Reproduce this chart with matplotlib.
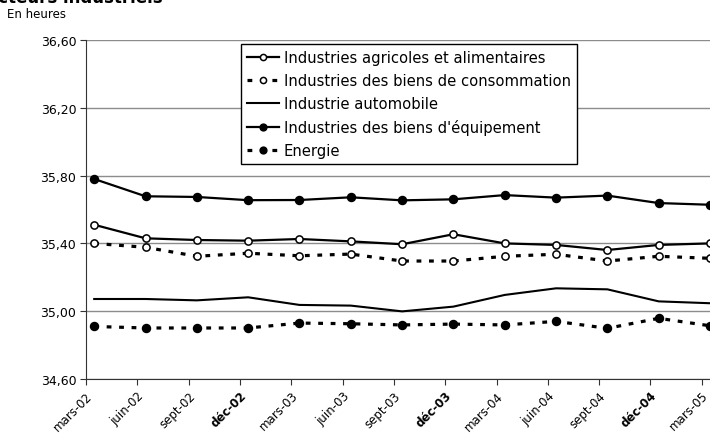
import matplotlib
matplotlib.use("Agg")
import matplotlib.pyplot as plt

plt.rcParams['font.family'] = ['DejaVu Sans']

labels = ['mars-02', 'juin-02', 'sept-02', 'déc-02', 'mars-03', 'juin-03', 'sept-03',
          'déc-03', 'mars-04', 'juin-04', 'sept-04', 'déc-04', 'mars-05']

agri = [35.51, 35.43, 35.42, 35.416, 35.426, 35.412, 35.395,
        35.454, 35.40, 35.391, 35.361, 35.391, 35.40]
conso = [35.40, 35.377, 35.324, 35.342, 35.327, 35.337, 35.296,
         35.296, 35.324, 35.336, 35.296, 35.324, 35.312]
auto = [35.072, 35.072, 35.064, 35.082, 35.037, 35.033, 34.999,
        35.027, 35.096, 35.135, 35.129, 35.058, 35.047]
equip = [35.78, 35.678, 35.674, 35.655, 35.656, 35.672, 35.654,
         35.66, 35.685, 35.67, 35.682, 35.638, 35.628]
energie = [34.91, 34.901, 34.901, 34.901, 34.93, 34.926, 34.919,
           34.924, 34.919, 34.94, 34.899, 34.958, 34.914]

yticks = [34.60, 35.00, 35.40, 35.80, 36.20, 36.60]

fig = plt.figure(figsize=(7.10, 4.35), dpi=100)
ax = fig.add_axes([86/710, 1 - 380/435, 1 - 86/710, (380 - 41)/435])

ticks = list(range(len(labels)))
xs = [t + 0.16 for t in ticks]
dash = (0, (1.5, 2.4))

ax.plot(xs, agri, color='black', lw=1.6, marker='o', ms=5.2,
        mfc='white', mec='black', mew=1.1, label='Industries agricoles et alimentaires')
ax.plot(xs, conso, color='black', lw=2.3, ls=dash, marker='o', ms=5.2,
        mfc='white', mec='black', mew=1.1, label='Industries des biens de consommation')
ax.plot(xs, auto, color='black', lw=1.5, label='Industrie automobile')
ax.plot(xs, equip, color='black', lw=1.6, marker='o', ms=5.8,
        mfc='black', mec='black', label="Industries des biens d'équipement")
ax.plot(xs, energie, color='black', lw=2.3, ls=dash, marker='o', ms=5.8,
        mfc='black', mec='black', label='Energie')

ax.set_xlim(0, 12.16)
ax.set_ylim(34.60, 36.60)
ax.set_yticks(yticks)
ax.set_yticklabels([f'{v:.2f}'.replace('.', ',') for v in yticks], fontsize=9)
ax.set_xticks(ticks)
ax.set_xticklabels(labels, rotation=45, ha='right', rotation_mode='anchor', fontsize=8.5)
for lab in ax.get_xticklabels():
    if lab.get_text().startswith('déc'):
        lab.set_fontweight('bold')

ax.yaxis.grid(True, color='#8c8c8c', lw=1)
ax.set_axisbelow(True)
for s in ['top', 'right']:
    ax.spines[s].set_visible(False)
for s in ['left', 'bottom']:
    ax.spines[s].set_color('#333333')
ax.tick_params(axis='both', direction='out', length=4, color='#333333', pad=3)

leg = fig.legend(loc='upper left', bbox_to_anchor=(241/710, 1 - 45/435),
                 fontsize=10.6, frameon=True, fancybox=False, handlelength=2.2,
                 handletextpad=0.3, borderaxespad=0, labelspacing=0.55,
                 borderpad=0.4, markerscale=0.85)
leg.get_frame().set_edgecolor('black')
leg.get_frame().set_linewidth(1)
leg.get_frame().set_alpha(1)

fig.text(7/710, 1 - 15/435, 'En heures', fontsize=8.5, va='center')
fig.text(163/710, 1 - 3/435, 'Durée hebdomadaire du travail par secteurs industriels',
         ha='right', va='baseline', fontsize=12, fontweight='bold')

fig.savefig('out.png', dpi=100)
